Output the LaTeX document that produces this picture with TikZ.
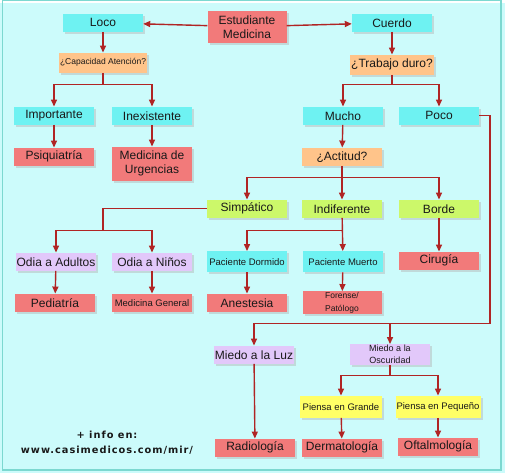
\documentclass[tikz,border=0pt]{standalone}
\usepackage{fontspec}
\setmainfont{Liberation Sans}
\newfontfamily\urlfont[LetterSpace=10]{DejaVu Sans}
\usetikzlibrary{arrows.meta,shadows}
\definecolor{bgcyan}{HTML}{CCFBFB}
\definecolor{framecol}{HTML}{7CD8D0}
\definecolor{boxcyan}{HTML}{6EF2F2}
\definecolor{boxred}{HTML}{F27A7A}
\definecolor{boxpeach}{HTML}{FFC48A}
\definecolor{boxlime}{HTML}{CCF86A}
\definecolor{boxlilac}{HTML}{E2C8FA}
\definecolor{boxyellow}{HTML}{FFFF66}
\definecolor{linkred}{HTML}{B02424}
\tikzset{
  % every box: flat fill with a soft grey shadow to the lower right
  box/.style={inner sep=1pt, minimum width=80pt, minimum height=18pt,
    text=black!90, font=\fontsize{12}{14}\selectfont, align=center,
    drop shadow={shadow xshift=2pt, shadow yshift=-2pt, fill=black!30, opacity=0.45}},
  small/.style={font=\fontsize{9.5}{12}\selectfont},
  choice/.style={box, fill=boxcyan},
  result/.style={box, fill=boxred},
  question/.style={box, fill=boxpeach},
  mood/.style={box, fill=boxlime},
  fear/.style={box, fill=boxlilac},
  think/.style={box, fill=boxyellow},
  link/.style={draw=linkred, line width=1.4pt},
  arrow/.style={link, -{Triangle[length=7pt,width=6pt]}},
}

\begin{document}
\begin{tikzpicture}[x=1pt, y=-1pt]

  % background and frame
  \fill[bgcyan] (0,0) rectangle (505,470);
  \draw[framecol, line width=1.5pt] (2.5,-2) rectangle (501,467);
  \useasboundingbox (0,0) rectangle (505,470);

  \node [result, minimum width=79pt, minimum height=32pt] at (247,24) (est) {Estudiante\\Medicina};
  \node [choice] at (103,20) (loco) {Loco};
  \node [choice] at (392,20) (cuerdo) {Cuerdo};

  \node [question, minimum width=81pt, minimum height=20pt, font=\fontsize{8.5}{10}\selectfont] at (103,60) (capac) {¿Capacidad Atención?};
  \node [question, minimum width=83pt, minimum height=20pt] at (392,62) (trabajo) {¿Trabajo duro?};

  \node [choice] at (54,113) (imp) {Importante};
  \node [choice] at (152,113) (inex) {Inexistente};
  \node [choice] at (343,113) (mucho) {Mucho};
  \node [choice] at (439,113) (poco) {Poco};

  \node [result] at (54,154) (psiq) {Psiquiatría};
  \node [result, minimum height=34pt] at (152,161) (urg) {Medicina de\\Urgencias};
  \node [question] at (342,154) (actitud) {¿Actitud?};

  \node [mood] at (247,206) (simp) {Simpático};
  \node [mood] at (342,206) (indif) {Indiferente};
  \node [mood] at (439,206) (borde) {Borde};

  \node [fear] at (56,259) (odad) {Odia a Adultos};
  \node [fear] at (152,259) (odni) {Odia a Niños};
  \node [choice, small, minimum height=21pt] at (247,259) (pdorm) {Paciente Dormido};
  \node [choice, small, minimum height=21pt] at (343,259) (pmuerto) {Paciente Muerto};
  \node [result] at (439,258) (cirug) {Cirugía};

  \node [result] at (55,300) (pedia) {Pediatría};
  \node [result, small] at (152,300) (medgen) {Medicina General};
  \node [result] at (247,300) (anest) {Anestesia};
  \node [result, minimum width=79pt, minimum height=23pt, font=\fontsize{8.5}{12.5}\selectfont] at (342,300) (forense) {Forense/\\Patólogo};

  \node [fear] at (254,352) (luz) {Miedo a la Luz};
  \node [fear, small, minimum height=21pt, font=\fontsize{9}{12}\selectfont] at (390,352) (oscur) {Miedo a la\\Oscuridad};

  \node [think, small, minimum width=82pt, minimum height=22pt] at (341,404) (grande) {Piensa en Grande};
  \node [think, small, minimum width=85pt, minimum height=22pt] at (438,404) (peque) {Piensa en Pequeño};

  \node [result] at (255,445) (radio) {Radiología};
  \node [result] at (342,445) (derma) {Dermatología};
  \node [result] at (438,444) (oftal) {Oftalmología};

  \node [align=center, font=\urlfont\bfseries\fontsize{9.8}{15}\selectfont, text=black!90] at (107,440) (info) {+ info en:\\www.casimedicos.com/mir/};

  % junctions of the branching lines
  \coordinate (capac-j) at (103,82);
  \coordinate (trabajo-j) at (392,82);
  \coordinate (actitud-j) at (342,175);
  \coordinate (simp-j) at (103,228);
  \coordinate (indif-j) at (342,228);
  \coordinate (poco-j) at (490,321);
  \coordinate (oscur-j) at (390,373);

  \draw [arrow] (est) -- (loco);
  \draw [arrow] (est) -- (cuerdo);
  \draw [arrow] (loco) -- (capac);
  \draw [arrow] (cuerdo) -- (trabajo);

  \draw [link] (capac) -- (capac-j);
  \draw [arrow] (capac-j) -| (imp);
  \draw [arrow] (capac-j) -| (inex);
  \draw [link] (trabajo) -- (trabajo-j);
  \draw [arrow] (trabajo-j) -| (mucho);
  \draw [arrow] (trabajo-j) -| (poco);

  \draw [arrow] (imp) -- (psiq);
  \draw [arrow] (inex) -- (urg);
  \draw [arrow] (mucho) -- (actitud);

  \draw [arrow] (actitud) -- (indif);
  \draw [arrow] (actitud-j) -| (simp);
  \draw [arrow] (actitud-j) -| (borde);

  \draw [link] (simp.west) -| (simp-j);
  \draw [arrow] (simp-j) -| (odad);
  \draw [arrow] (simp-j) -| (odni);
  \draw [arrow] (indif) -- (pmuerto);
  \draw [arrow] (indif-j) -| (pdorm);
  \draw [arrow] (borde) -- (cirug);

  \draw [arrow] (odad) -- (pedia);
  \draw [arrow] (odni) -- (medgen);
  \draw [arrow] (pdorm) -- (anest);
  \draw [arrow] (pmuerto) -- (forense);

  \draw [link] (poco.east) -| (poco-j);
  \draw [arrow] (poco-j) -| (luz);
  \draw [arrow] (poco-j) -| (oscur);

  \draw [arrow] (luz) -- (radio);
  \draw [link] (oscur) -- (oscur-j);
  \draw [arrow] (oscur-j) -| (grande);
  \draw [arrow] (oscur-j) -| (peque);
  \draw [arrow] (grande) -- (derma);
  \draw [arrow] (peque) -- (oftal);

\end{tikzpicture}
\end{document}
